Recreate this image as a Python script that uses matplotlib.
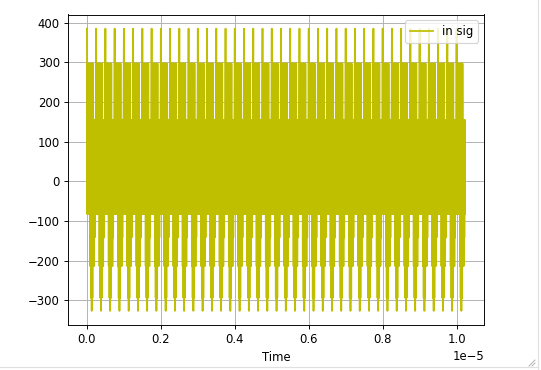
import numpy as np
import matplotlib
matplotlib.use("Agg")
import matplotlib.pyplot as plt
from matplotlib.lines import Line2D

# one 25-sample period of the input signal
period_values = [385, -83, 297, -83, 297, -83, 297, -83, 297, -214,
                 297, -294, 297, -327, 297, -294, 297, -214, 155, -214,
                 155, -142, 155, -83, 155]
n_samples = 1024
dt = 1e-8

t = np.arange(n_samples) * dt
sig = np.resize(np.array(period_values, dtype=float), n_samples)

# screenshot is a scaled-down figure, so render at a lower dpi
dpi = 84
fig = plt.figure(figsize=(541 / dpi, 370 / dpi), dpi=dpi)
ax = fig.add_axes([68 / 541, 45 / 370, 416 / 541, 310.5 / 370])
ax.plot(t, sig, color='y', label='in sig')
ax.grid(True)
ax.set_xlabel('Time')
ax.legend(loc='upper right')

# widget frame and resize handle seen in the screenshot
fig.add_artist(Line2D([538 / 541, 538 / 541], [0, 1], color='#e0e0e0', lw=1))
fig.add_artist(Line2D([0, 538 / 541], [3 / 370, 3 / 370], color='#e0e0e0', lw=1))
fig.add_artist(Line2D([529 / 541, 535 / 541], [4 / 370, 10 / 370], color='#b0b0b0', lw=0.8))
fig.add_artist(Line2D([532 / 541, 535 / 541], [4 / 370, 7 / 370], color='#b0b0b0', lw=0.8))

fig.savefig('out.png', dpi=dpi)
